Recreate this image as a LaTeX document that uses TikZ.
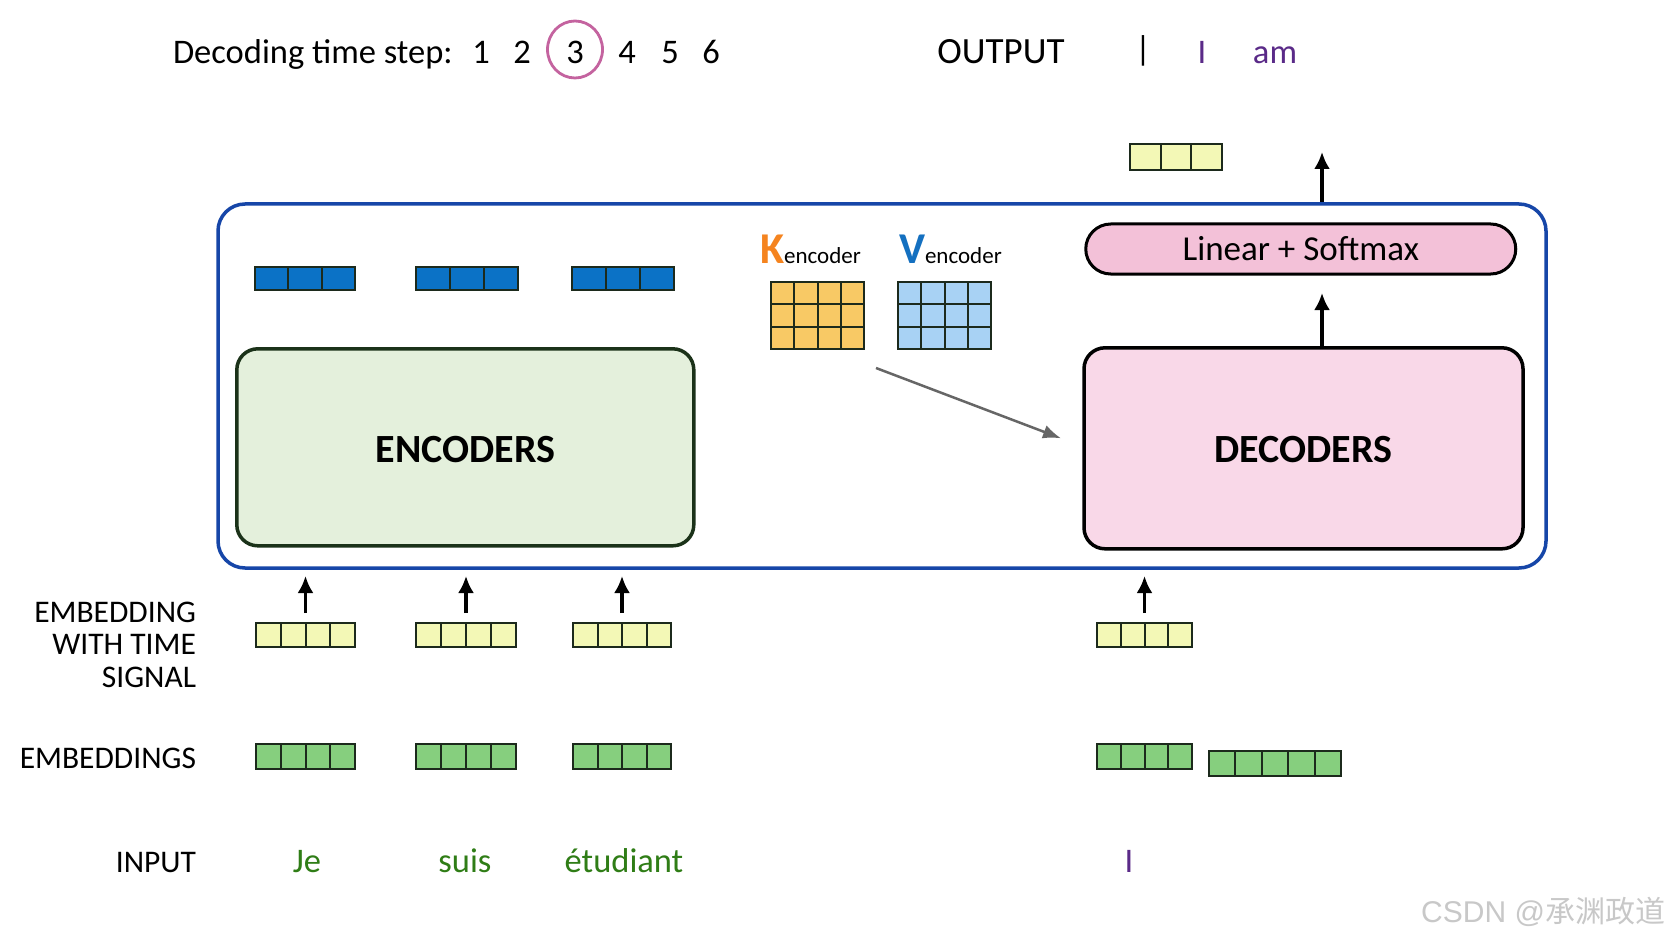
\documentclass[tikz,border=0pt]{standalone}
\usepackage{fontspec}
\setmainfont{Carlito}
\newfontfamily\cjkfont{Noto Sans CJK SC}
\newfontfamily\wmfont{Liberation Sans}
\usetikzlibrary{arrows.meta,calc,shapes.geometric}
\definecolor{cblue}{HTML}{0B72C6}
\definecolor{cyellow}{HTML}{F3F8B6}
\definecolor{cgreen}{HTML}{86CF7E}
\definecolor{korangefill}{HTML}{F8C965}
\definecolor{vbluefill}{HTML}{A8D2F4}
\definecolor{korange}{HTML}{F5841F}
\definecolor{vblue}{HTML}{1470C0}
\definecolor{wgreen}{HTML}{2F7D16}
\definecolor{wpurple}{HTML}{5A2A88}
\definecolor{circ}{HTML}{C4639F}
\definecolor{frameblue}{HTML}{1646A8}
\definecolor{encfill}{HTML}{E4F0DC}
\definecolor{encline}{HTML}{1B3219}
\definecolor{decfill}{HTML}{F9D8E8}
\definecolor{linfill}{HTML}{F3C1D8}
\definecolor{cellborder}{HTML}{1C2A1C}
\definecolor{wm}{HTML}{C8C8C8}
\newcommand{\mycells}[8]{% name, fill, x1, y1, x2, y2, cols, rows
  \pgfmathsetmacro\cw{#5-#3}\pgfmathsetmacro\ch{#6-#4}
  \node[cellbox,fill=#2,minimum width=\cw pt,minimum height=\ch pt] (#1) at ({(#3+#5)/2},{(#4+#6)/2}) {};
  \foreach \i in {1,...,#7}{\ifnum\i<#7
    \draw[cellline] ($(#1.north west)!{\i/#7}!(#1.north east)$) -- ($(#1.south west)!{\i/#7}!(#1.south east)$);\fi}
  \foreach \j in {1,...,#8}{\ifnum\j<#8
    \draw[cellline] ($(#1.north west)!{\j/#8}!(#1.south west)$) -- ($(#1.north east)!{\j/#8}!(#1.south east)$);\fi}
}
\tikzset{
  cellbox/.style={draw=cellborder,line width=2pt,inner sep=0pt,outer sep=0pt,rectangle},
  cellline/.style={draw=cellborder,line width=2pt},
  txt/.style={inner sep=0pt,outer sep=0pt,anchor=base,font=\fontsize{34.5}{34.5}\selectfont},
  lbl/.style={txt,anchor=base east,align=right,font=\fontsize{31.5}{32.5}\selectfont},
  arr/.style={line width=3.2pt,-{Latex[length=17pt,width=16pt]}},
  bigbox/.style={rectangle,line width=3.5pt,inner sep=0pt,outer sep=0pt},
}
\begin{document}
\begin{tikzpicture}[x=1pt,y=-1pt]
\useasboundingbox[fill=white] (0,0) rectangle (1672,941);

% top row
\node[txt,anchor=base west] (dts) at (173,64) {Decoding time step:};
\node[txt] (n1) at (481,64) {1};
\node[txt] (n2) at (522,64) {2};
\node[txt] (n3) at (575,64) {3};
\node[txt] (n4) at (627,64) {4};
\node[txt] (n5) at (670,64) {5};
\node[txt] (n6) at (711,64) {6};
\node[draw=circ,line width=2.8pt,ellipse,minimum width=55pt,minimum height=57pt,inner sep=0pt] (c3) at (575,49.5) {};
\node[txt,font=\fontsize{37}{37}\selectfont] (out) at (1001,64) {OUTPUT};
\node[txt] (bar) at (1143,61) {|};
\node[txt,text=wpurple] (oI) at (1202,64) {I};
\node[txt,text=wpurple] (oam) at (1275,64) {am};

% frame
\node[bigbox,draw=frameblue,rounded corners=27pt,minimum width=1328pt,minimum height=364pt] (frame) at (882,386) {};

% encoders / decoders
\node[bigbox,draw=encline,fill=encfill,rounded corners=21pt,minimum width=457pt,minimum height=197pt,font=\bfseries\fontsize{40}{40}\selectfont] (enc) at (465.3,447.3) {\raisebox{-15.6pt}[0pt][0pt]{ENCODERS}};
\node[bigbox,draw=black,fill=decfill,rounded corners=21pt,minimum width=439pt,minimum height=201pt,font=\bfseries\fontsize{40}{40}\selectfont] (dec) at (1303.5,448.3) {\raisebox{-14.6pt}[0pt][0pt]{DECODERS}};
\node[bigbox,draw=black,line width=3pt,fill=linfill,rounded corners=25pt,minimum width=430pt,minimum height=50pt,font=\fontsize{35}{35}\selectfont] (lin) at (1300.75,249) {Linear + Softmax};

% encoder outputs
\mycells{b1}{cblue}{255}{267}{355}{290}{3}{1}
\mycells{b2}{cblue}{416}{267}{518}{290}{3}{1}
\mycells{b3}{cblue}{572}{267}{674}{290}{3}{1}

% K V
\node[txt,anchor=base west] (klbl) at (760,264) {\textcolor{korange}{\bfseries\fontsize{44}{44}\selectfont K}{\fontsize{23}{23}\selectfont encoder}};
\node[txt,anchor=base west] (vlbl) at (899,264) {\textcolor{vblue}{\bfseries\fontsize{44}{44}\selectfont V}{\fontsize{23}{23}\selectfont encoder}};
\mycells{K}{korangefill}{771}{282}{864}{349}{4}{3}
\mycells{V}{vbluefill}{898}{282}{991}{349}{4}{3}
\draw[line width=2.5pt,draw=black!60,-{Latex[length=18pt,width=14pt]}] ($(K.south east)+(12,19)$) -- ($(dec.west)+(-23,-10)$);

% output vector and arrows
\mycells{yo}{cyellow}{1130}{144}{1222}{170}{3}{1}
\coordinate (ax) at (1322,0);
\draw[arr] (dec.north -| ax) -- ($(lin.south -| ax)+(0,19)$);
\draw[arr] ($(frame.north -| ax)+(0,-2)$) -- ($(frame.north -| ax)+(0,-52)$);

% embeddings with time signal
\mycells{ye1}{cyellow}{256}{623}{355}{647}{4}{1}
\mycells{ye2}{cyellow}{416}{623}{516}{647}{4}{1}
\mycells{ye3}{cyellow}{573}{623}{671}{647}{4}{1}
\mycells{ye4}{cyellow}{1097}{623}{1192}{647}{4}{1}
\foreach \v in {ye1,ye2,ye3,ye4}{
  \draw[arr] ($(\v.north)+(0,-10)$) -- ($(\v.north |- frame.south)+(0,8)$);
}

% embeddings
\mycells{g1}{cgreen}{256}{744}{355}{769}{4}{1}
\mycells{g2}{cgreen}{416}{744}{516}{769}{4}{1}
\mycells{g3}{cgreen}{573}{744}{671}{769}{4}{1}
\mycells{g4}{cgreen}{1097}{744}{1192}{769}{4}{1}
\mycells{g5}{cgreen}{1209}{751}{1341}{776}{5}{1}

% labels
\node[lbl] (lemb) at (196,687) {EMBEDDING\\WITH TIME\\SIGNAL};
\node[lbl] (lembs) at (196,768) {EMBEDDINGS};
\node[lbl] (linp) at (196,872) {INPUT};

% input words
\node[txt,text=wgreen] (w1) at (307,872) {Je};
\node[txt,text=wgreen] (w2) at (465,872) {suis};
\node[txt,text=wgreen] (w3) at (624,872) {étudiant};
\node[txt,text=wpurple] (w4) at (1129,872) {I};

% watermark
\node[txt,anchor=base east,text=wm,font=\fontsize{30}{30}\selectfont] (wmk) at (1665,922) {\wmfont CSDN @\cjkfont 承渊政道};
\end{tikzpicture}
\end{document}
